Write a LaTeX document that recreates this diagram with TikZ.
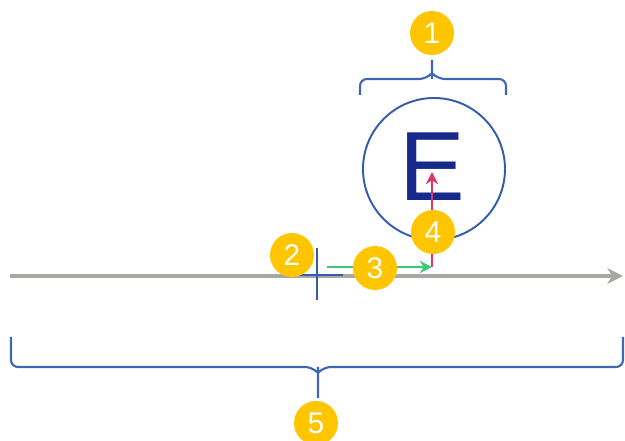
\documentclass[tikz,border=0pt]{standalone}
\usepackage{fontspec}
\setmainfont{Liberation Sans}
\usetikzlibrary{positioning,arrows.meta,calc}
\definecolor{BraceBlue}{RGB}{62,102,180}
\definecolor{LetterBlue}{RGB}{22,42,140}
\definecolor{RingBlue}{RGB}{52,92,172}
\definecolor{BadgeYellow}{RGB}{255,198,0}
\definecolor{AxisGray}{RGB}{168,168,162}
\definecolor{StepGreen}{RGB}{62,200,122}
\definecolor{StepRed}{RGB}{226,52,100}

\begin{document}
\begin{tikzpicture}[x=0.2mm, y=-0.2mm,
    every node/.style={align=center},
    badge/.style={circle, fill=BadgeYellow, text=white, inner sep=0pt,
                  minimum size=0.88cm, font=\fontsize{17}{17}\selectfont},
    bracket/.style={BraceBlue, line width=1.2pt, rounded corners=4pt}]
  \useasboundingbox (0,0) rectangle (625,441);

  % axis and origin cross
  \coordinate (axisL) at (10,276);
  \coordinate (axisR) at (623,276);
  \draw[AxisGray, line width=1.8pt, -{Stealth[length=9pt, width=9pt]}] (axisL) -- (axisR);
  \coordinate (origin) at (317,275);
  \draw[RingBlue, line width=1.1pt] ($(origin)+(-25,0)$) -- ($(origin)+(26,0)$)
                                    ($(origin)+(0,-27)$) -- ($(origin)+(0,25)$);

  % ring with letter
  \node[draw=RingBlue, line width=1.1pt, circle, minimum size=2.84cm] (ring) at (434,169) {};
  \node[text=LetterBlue, font=\fontsize{56}{56}\selectfont, inner sep=0pt] (letter) at (432,167) {E};

  % displacement steps
  \coordinate (start) at (327,267);
  \coordinate (corner) at (432,267);
  \coordinate (top) at (432,172);
  \draw[StepGreen, line width=1.1pt, -{Stealth[length=7pt, width=7pt]}] (start) -- (corner);
  \draw[StepRed, line width=1.1pt, -{Stealth[length=7pt, width=7pt]}] (corner) -- (top);

  % upper bracket
  \draw[bracket] (360,95) -- (360,79) -- (426,79) -- (432,73) (432,60) -- (432,79)
                 (432,73) -- (438,79) -- (506,79) -- (506,95);
  % lower bracket
  \draw[bracket] (11,337) -- (11,367) -- (312,367) -- (318,373) (318,398) -- (318,367)
                 (318,373) -- (324,367) -- (623,367) -- (623,337);

  % badges
  \node[badge] (badge1) at (432,33) {1};
  \node[badge] (badge2) at (292,255) {2};
  \node[badge] (badge3) at (375,268) {3};
  \node[badge] (badge4) at (433,232) {4};
  \node[badge] (badge5) at (316,423) {5};
\end{tikzpicture}
\end{document}
